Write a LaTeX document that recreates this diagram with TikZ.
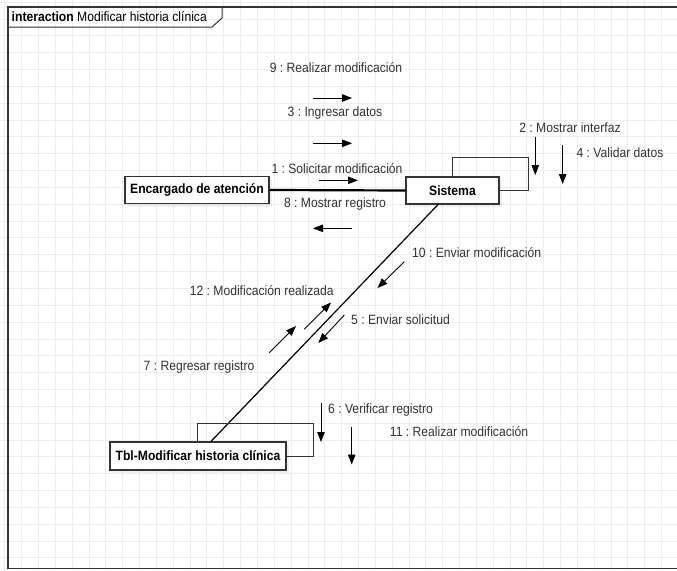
\documentclass[tikz,border=0pt]{standalone}
\usepackage{fontspec}
\setmainfont{Liberation Sans}[FakeStretch=0.9]
\usetikzlibrary{arrows.meta,shadows}
\definecolor{gridgray}{HTML}{EDEDED}
\definecolor{ink}{HTML}{333333}
\frenchspacing
\begin{document}
\begin{tikzpicture}[x=1pt,y=-1pt,
  every node/.style={font=\fontsize{13.5}{15}\selectfont},
  obj/.style={draw=ink, line width=1.2pt, fill=white, inner sep=0pt,
    font=\fontsize{13.5}{15}\selectfont\bfseries,
    drop shadow={shadow xshift=3pt, shadow yshift=-3pt, opacity=0.12}},
  msg/.style={text=ink, inner sep=0pt},
  msgarrow/.style={draw=black, line width=0.9pt, -{Triangle[length=10pt,width=7.5pt]}},
  loopline/.style={draw=ink, line width=1pt}]

% canvas and background grid
\useasboundingbox (0,0) rectangle (677,570);
\fill[white] (0,0) rectangle (677,570);
\foreach \i in {0,...,39} \draw[gridgray, line width=0.9pt] ({4.86+16.84*\i},0) -- ++(0,570);
\foreach \j in {0,...,33} \draw[gridgray, line width=0.9pt] (0,{2.16+16.84*\j}) -- ++(677,0);

% interaction frame with its name tab
\draw[ink, line width=1.2pt] (680,7) -- (8,7) -- (8,568.5) -- (680,568.5);
\draw[ink, line width=1pt] (8,27) -- (212,27) -- (222,18) -- (222,7);
\node[anchor=west, inner sep=0pt] (title) at (11.5,17)
  {\textbf{interaction} Modificar historia clínica};

% lifeline objects
\node[obj, minimum width=144pt, minimum height=27pt] (enc) at (197,190) {Encargado de atención};
\node[obj, minimum width=93pt, minimum height=27pt] (sis) at (452.5,190.5) {Sistema};
\node[obj, minimum width=176pt, minimum height=28pt] (tbl) at (198,456) {Tbl-Modificar historia clínica};

% links
\draw[black, line width=2.2pt] (enc.east) -- (sis.west);
\draw[black, line width=1.2pt] ([xshift=-14.5pt]sis.south) -- ([xshift=13pt]tbl.north);
\draw[loopline] (sis.north) |- (528,157) |- (sis.east);
\draw[loopline] ([xshift=-0.7pt]tbl.north) |- (313,423) |- (tbl.east);

% messages between the actor and the system
\node[msg] (m9) at (336,68) {9 : Realizar modificación};
\draw[msgarrow] (313,98) -- (352,98);
\node[msg] (m3) at (335,113) {3 : Ingresar datos};
\draw[msgarrow] (313,143.3) -- (352,143.3);
\node[msg] (m1) at (337,169) {1 : Solicitar modificación};
\draw[msgarrow] (319,180.3) -- (358,180.3);
\node[msg] (m8) at (335,204) {8 : Mostrar registro};
\draw[msgarrow] (352,228.3) -- (313,228.3);

% self messages of the system
\node[msg] (m2) at (570,128) {2 : Mostrar interfaz};
\draw[msgarrow] (535.3,136.5) -- (535.3,175);
\node[msg] (m4) at (620,153) {4 : Validar datos};
\draw[msgarrow] (562.7,145) -- (562.7,184);

% messages between the system and the table
\node[msg] (m10) at (476.7,253) {10 : Enviar modificación};
\draw[msgarrow] (404.3,261.7) -- (377.5,288);
\node[msg] (m12) at (261.7,291) {12 : Modificación realizada};
\draw[msgarrow] (304.3,329.3) -- (331,302.5);
\node[msg] (m5) at (400.5,320) {5 : Enviar solicitud};
\draw[msgarrow] (344.3,315) -- (318.3,343);
\node[msg] (m7) at (199,367) {7 : Regresar registro};
\draw[msgarrow] (269.3,352.7) -- (296,326);

% self messages of the table
\node[msg] (m6) at (380.5,410) {6 : Verificar registro};
\draw[msgarrow] (321,402.5) -- (321,442);
\node[msg] (m11) at (459,432) {11 : Realizar modificación};
\draw[msgarrow] (351.7,426.5) -- (351.7,464.5);
\end{tikzpicture}
\end{document}
